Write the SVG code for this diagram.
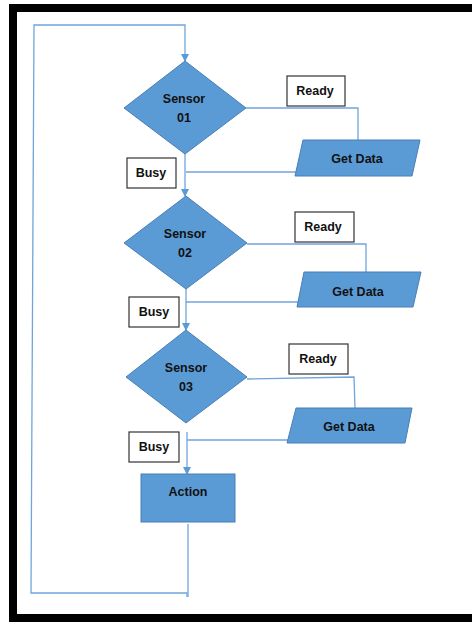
<svg xmlns="http://www.w3.org/2000/svg" width="472" height="622" viewBox="0 0 472 622">
<defs>
<style>
.shape{fill:#5b9bd5;stroke:#4a7fb5;stroke-width:1}
.lbl{fill:#fff;stroke:#333;stroke-width:1.2}
.t{font-family:"Liberation Sans",Arial,sans-serif;font-weight:bold;font-size:12.5px;fill:#111;text-anchor:middle}
.c{fill:none;stroke:#6fa5dc;stroke-width:1.3}
</style>
<marker id="ah" viewBox="0 0 8 8" refX="7" refY="4" markerWidth="8" markerHeight="8" markerUnits="userSpaceOnUse" orient="auto">
<path d="M0,0 L8,4 L0,8 Z" fill="#5b9bd5"/>
</marker>
</defs>
<rect x="0" y="0" width="472" height="622" fill="#fff"/>
<g id="frame">
<rect x="9" y="4" width="463" height="8" fill="#000"/>
<rect x="9" y="4" width="8" height="618" fill="#000"/>
<rect x="9" y="614" width="463" height="8" fill="#000"/>
</g>
<g id="connectors">
<path class="c" d="M187,597 L187,593 L31,593 L34,25 L185,25 L185,61" marker-end="url(#ah)"/>
<path class="c" d="M185,154 L185,196" marker-end="url(#ah)"/>
<path class="c" d="M246,108 L358,108 L358,140"/>
<path class="c" d="M186,172 L297,172"/>
<path class="c" d="M186,289 L186,330" marker-end="url(#ah)"/>
<path class="c" d="M247,244 L366,244 L366,272"/>
<path class="c" d="M186,302 L299,302"/>
<path class="c" d="M187,432 L187,474" marker-end="url(#ah)"/>
<path class="c" d="M247,379 L354,377 L355,408"/>
<path class="c" d="M187,440 L289,440"/>
<path class="c" d="M188,524 L188,597"/>
</g>
<g id="sensor1">
<polygon class="shape" points="185,61 246,108 185,154 124,108"/>
<text class="t" x="184" y="103">Sensor</text>
<text class="t" x="184" y="122">01</text>
</g>
<g id="ready1">
<rect class="lbl" x="287" y="76" width="58" height="30"/>
<text class="t" x="315" y="95">Ready</text>
</g>
<g id="getdata1">
<polygon class="shape" points="303,140 420,140 412,176 295,176"/>
<text class="t" x="357" y="163">Get Data</text>
</g>
<g id="busy1">
<rect class="lbl" x="127" y="158" width="49" height="30"/>
<text class="t" x="151" y="177">Busy</text>
</g>
<g id="sensor2">
<polygon class="shape" points="186,196 247,243 186,289 124,243"/>
<text class="t" x="185" y="238">Sensor</text>
<text class="t" x="185" y="257">02</text>
</g>
<g id="ready2">
<rect class="lbl" x="295" y="212" width="59" height="30"/>
<text class="t" x="323" y="231">Ready</text>
</g>
<g id="getdata2">
<polygon class="shape" points="304,272 421,272 413,307 297,307"/>
<text class="t" x="358" y="296">Get Data</text>
</g>
<g id="busy2">
<rect class="lbl" x="129" y="297" width="50" height="30"/>
<text class="t" x="154" y="316">Busy</text>
</g>
<g id="sensor3">
<polygon class="shape" points="186,330 247,377 186,423 126,377"/>
<text class="t" x="186" y="372">Sensor</text>
<text class="t" x="186" y="391">03</text>
</g>
<g id="ready3">
<rect class="lbl" x="289" y="344" width="59" height="30"/>
<text class="t" x="318" y="363">Ready</text>
</g>
<g id="getdata3">
<polygon class="shape" points="296,408 412,408 405,443 287,443"/>
<text class="t" x="349" y="431">Get Data</text>
</g>
<g id="busy3">
<rect class="lbl" x="129" y="432" width="50" height="30"/>
<text class="t" x="154" y="451">Busy</text>
</g>
<g id="action">
<rect class="shape" x="141" y="474" width="94" height="48"/>
<text class="t" x="188" y="496">Action</text>
</g>
</svg>
